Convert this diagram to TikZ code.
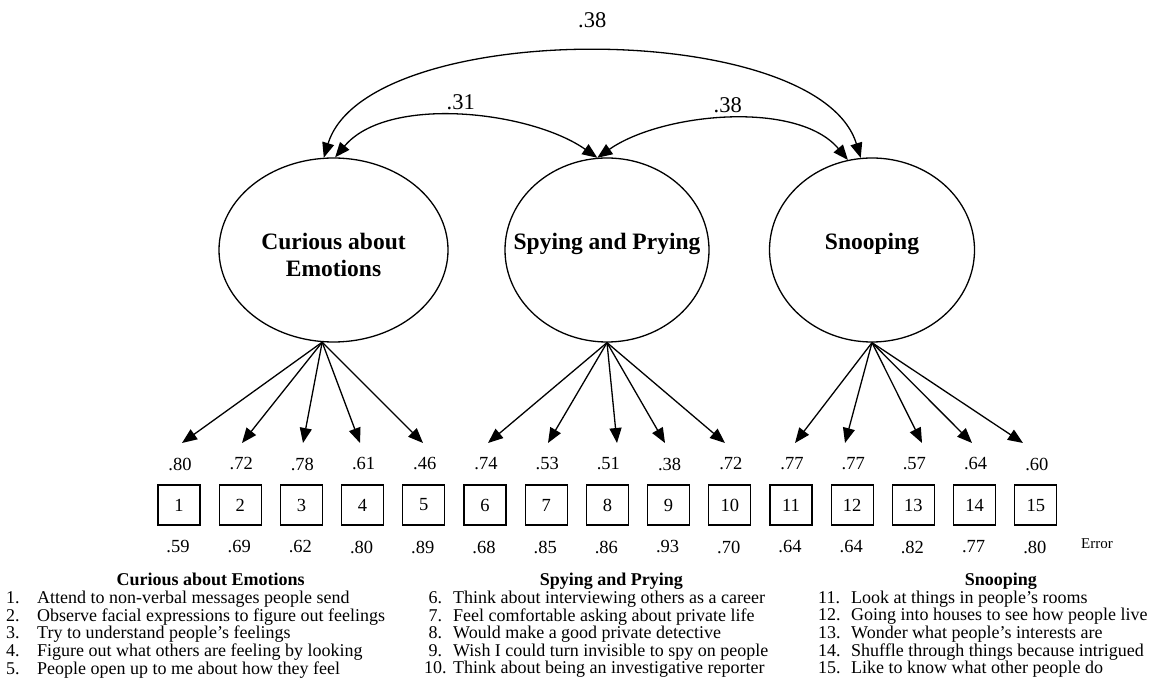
\documentclass[tikz,border=0pt]{standalone}
\usepackage{fontspec}
\setmainfont{Liberation Serif}
\usetikzlibrary{arrows.meta,positioning,shapes.geometric,calc}

\begin{document}
\begin{tikzpicture}[
  x=1pt,y=1pt,
  >={Triangle[length=15pt,width=12pt]},
  latent/.style={draw,ellipse,line width=1.3pt,minimum height=184pt,inner sep=0pt},
  lbl/.style={font=\fontsize{23.5}{27}\selectfont\bfseries,align=center,inner sep=0pt},
  item/.style={draw,rectangle,line width=1.3pt,minimum width=42pt,minimum height=40pt,
               inner sep=0pt,font=\fontsize{18.5}{18.5}\selectfont},
  val/.style={font=\fontsize{18.5}{18.5}\selectfont,inner sep=0pt},
  corr/.style={font=\fontsize{22.5}{22.5}\selectfont,inner sep=0pt},
  load/.style={->,line width=1.3pt},
  cov/.style={<->,line width=1.3pt},
  list/.style={font=\fontsize{18}{17}\selectfont,inner sep=0pt,anchor=north west},
]
\useasboundingbox (0,0) rectangle (1155,696);

%% =====================================================
%%  LATENT FACTORS
%% =====================================================
\node[latent,minimum width=229pt,
      label={[lbl,yshift=-5pt]center:{Curious about\\Emotions}}] (cur) at (333.5,446) {};
\node[latent,minimum width=204pt,
      label={[lbl,yshift=6pt]center:Spying and Prying}] (spy) at (607,446) {};
\node[latent,minimum width=205pt,
      label={[lbl,yshift=6pt]center:Snooping}] (sno) at (872,446) {};

% --- factor correlations ---
\draw[cov] (cur.96) to[out=73,in=107,looseness=0.7]
      node[corr,above=24pt] {.38} (sno.97);
\draw[cov] (cur.89) to[out=50,in=145,looseness=0.8]
      node[corr,above=6pt] {.31} (spy.96);
\draw[cov] (spy.96) to[out=35,in=130,looseness=0.8]
      node[corr,above=6pt] {.38} (sno.105);

%% =====================================================
%%  OBSERVED ITEMS (loading above, error below)
%% =====================================================
\foreach \i/\tx/\lo/\er in {1/182/.80/.59, 2/242/.72/.69, 3/303/.78/.62,
    4/360/.61/.80, 5/423/.46/.89, 6/488/.74/.68, 7/548/.53/.85, 8/617/.51/.86,
    9/665/.38/.93, 10/725/.72/.70, 11/795/.77/.64, 12/845/.77/.64,
    13/922/.57/.82, 14/972/.64/.77, 15/1023/.60/.80} {
  \node[item] (b\i) at ({179+(\i-1)*61.2},191) {\i};
  \node[val] (t\i) at ({180+(\i-1)*61.2},232) {\lo};
  \node[val] (e\i) at ({178+(\i-1)*61.2},149) {\er};
  \coordinate (tip\i) at (\tx,253);
}
\node[val,font=\fontsize{15}{15}\selectfont] (err) at (1097,152) {Error};

% --- loadings ---
\foreach \i in {1,...,5}   \draw[load] (cur.263) -- (tip\i);
\foreach \i in {6,...,10}  \draw[load] (spy.270) -- (tip\i);
\foreach \i in {11,...,15} \draw[load] (sno.270) -- (tip\i);

%% =====================================================
%%  ITEM WORDING
%% =====================================================
\node[list] (lcur) at (6,123) {\begin{tabular}{@{}p{31pt}@{}l@{}}
  \multicolumn{2}{c}{\hspace{30pt}\textbf{Curious about Emotions}}\\
  1. & Attend to non-verbal messages people send\\
  2. & Observe facial expressions to figure out feelings\\
  3. & Try to understand people’s feelings\\
  4. & Figure out what others are feeling by looking\\
  5. & People open up to me about how they feel
\end{tabular}};

\node[list] (lspy) at (424,123) {\begin{tabular}{@{}p{29pt}@{}l@{}}
  \multicolumn{2}{c}{\hspace{30pt}\textbf{Spying and Prying}}\\
  \ 6. & Think about interviewing others as a career\\
  \ 7. & Feel comfortable asking about private life\\
  \ 8. & Would make a good private detective\\
  \ 9. & Wish I could turn invisible to spy on people\\
  10. & Think about being an investigative reporter
\end{tabular}};

\node[list] (lsno) at (818,123) {\begin{tabular}{@{}p{33pt}@{}l@{}}
  \multicolumn{2}{c}{\hspace{36pt}\textbf{Snooping}}\\
  11. & Look at things in people’s rooms\\
  12. & Going into houses to see how people live\\
  13. & Wonder what people’s interests are\\
  14. & Shuffle through things because intrigued\\
  15. & Like to know what other people do
\end{tabular}};

\end{tikzpicture}
\end{document}
